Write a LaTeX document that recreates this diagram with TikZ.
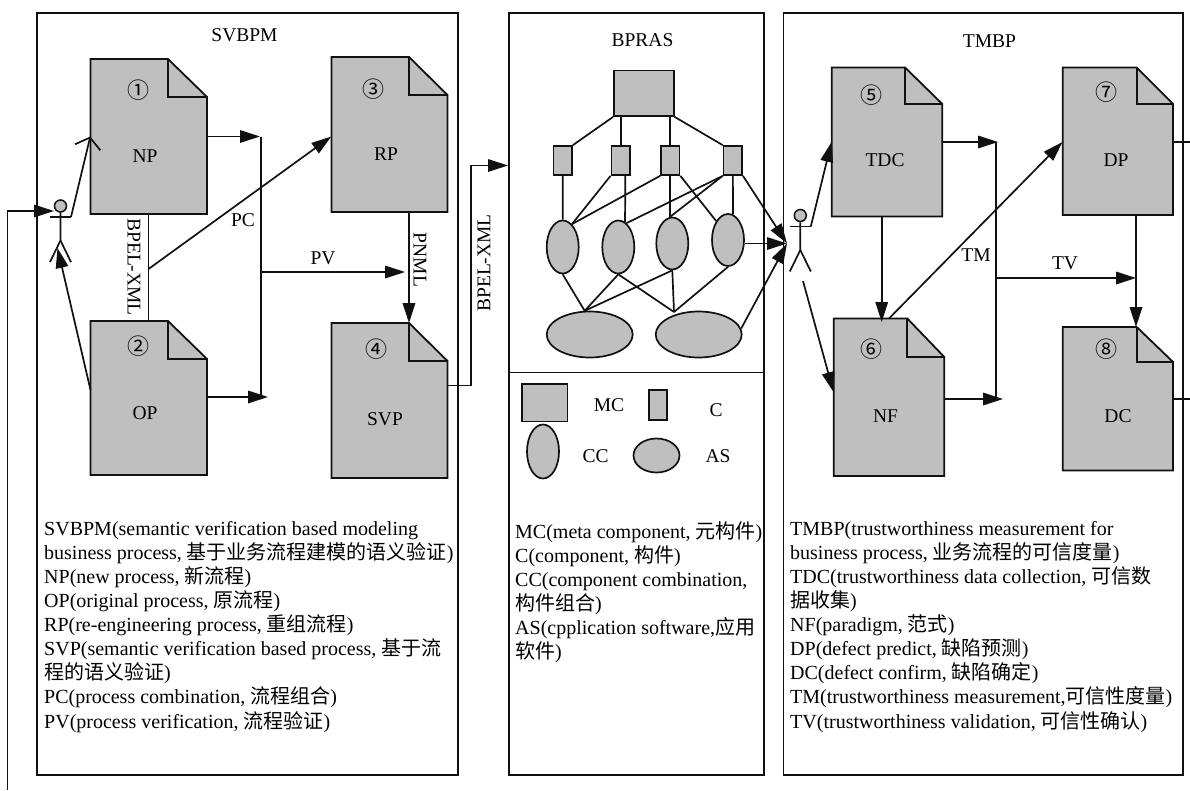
\documentclass[tikz,border=0pt]{standalone}
\usepackage{xcolor}
\usepackage{fontspec}
\setmainfont{Liberation Serif}
\newfontfamily\cjk{Noto Sans CJK SC}
\usepackage{tikz}
\usetikzlibrary{arrows.meta,positioning,calc,shapes.geometric,fit}
\definecolor{figgrey}{HTML}{BFBFBF}
\definecolor{figline}{HTML}{111111}
\newcommand{\zh}[1]{{\cjk\fontsize{20}{24.1}\selectfont #1}}
\tikzset{
  panel/.style={draw=figline, line width=1.6pt, inner sep=0pt},
  sheet/.style={fill=figgrey, draw=figline, line width=1.8pt},
  part/.style={fill=figgrey, draw=figline, line width=1.7pt, inner sep=0pt},
  flow/.style={-{Triangle[length=20pt,width=12.5pt]}, line width=1.7pt, color=figline},
  link/.style={line width=1.7pt, color=figline},
  lbl/.style={text=black, font=\fontsize{19.5}{22}\selectfont, inner sep=0pt},
  num/.style={text=black, font=\cjk\fontsize{22}{24}\selectfont, inner sep=0pt},
  notes/.style={text=black, font=\fontsize{20}{24.1}\selectfont, align=left, anchor=north west, inner sep=0pt},
}
% page shape with a folded corner: name, x0, y0, x1, y1, fold x, fold y
\newcommand{\docsheet}[7]{
  \draw[sheet] (#2,#3) -- (#6,#3) -- (#4,#7) -- (#4,#5) -- (#2,#5) -- cycle;
  \draw[sheet, fill=none] (#6,#3) -- (#6,#7) -- (#4,#7);
  \node[fit={(#2,#3) (#4,#5)}, inner sep=0pt] (#1) {};
}
% stick figure: name, x, y of the head
\newcommand{\stickman}[3]{
  \node[circle, fill=figgrey, draw=figline, line width=1.5pt, minimum size=12pt, inner sep=0pt] (#1) at (#2,#3) {};
  \coordinate (#1hand) at ($(#1)+(10.5,11)$);
  \draw[link] (#1.south) -- ($(#1)+(0,34.5)$) -- ($(#1)+(-10.5,56)$);
  \draw[link] ($(#1)+(0,34.5)$) -- ($(#1)+(10.5,56)$);
  \draw[link] ($(#1)+(-10.5,11)$) -- (#1hand);
}

\begin{document}
\begin{tikzpicture}[x=1pt,y=-1pt]
\useasboundingbox (0,0) rectangle (1190,790);

\node[panel, fit={(37,13) (458,775)}] (SVBPM) {};
\node[panel, fit={(509,13) (763.7,775)}] (BPRAS) {};
\node[panel, fit={(783.3,13) (1182.7,775)}] (TMBP) {};
\draw[panel] (BPRAS.west |- 0,372.5) -- (BPRAS.east |- 0,372.5);

\node[lbl] (svbpmTitle) at (244.5,35) {SVBPM};
\node[lbl] (bprasTitle) at (642.5,40) {BPRAS};
\node[lbl] (tmbpTitle) at (989.5,41) {TMBP};

% left panel
\docsheet{NP}{90.5}{59}{207}{214}{168}{97}
\docsheet{OP}{90.5}{321}{207}{475}{168}{359}
\docsheet{RP}{331.5}{57}{447.5}{212}{409}{95}
\docsheet{SVP}{331.5}{323}{447.5}{478}{409}{361}
\node[num] (num1) at (138.5,90) {①};
\node[num] (num2) at (138.5,346) {②};
\node[num] (num3) at (373,89) {③};
\node[num] (num4) at (376.7,348.7) {④};
\node[lbl] (npLabel) at (145,156) {NP};
\node[lbl] (opLabel) at (145,413) {OP};
\node[lbl] (rpLabel) at (386,154) {RP};
\node[lbl] (svpLabel) at (385,419) {SVP};

\stickman{manA}{60.5}{206}
\coordinate (loopTurn) at (7.5,211);
\coordinate (pcTop) at (260,136.5);
\coordinate (pcBot) at (261,397);
\coordinate (pcBotTip) at (268,397);
\coordinate (pvStart) at (261,272);
\coordinate (pvEnd) at (405,272);
\coordinate (xmlMid) at (148.5,269);
\coordinate (svpFold) at (409,323);
\coordinate (svpTurn) at (471,385.5);
\coordinate (bprasIn) at (508,165.5);
\coordinate (opOut) at (90.5,390);

\draw[flow] (7.5,790) -- (loopTurn) -- (54,211);
\draw[link, -{Straight Barb[length=10pt,width=26pt]}] (manAhand) -- (NP.west |- pcTop);
\draw[flow] (opOut) -- (57.5,248);
\draw[link] (NP.south -| xmlMid) -- (OP.north -| xmlMid);
\draw[flow] (xmlMid) -- (RP.west |- pcTop);
\draw[flow] (NP.east |- pcTop) -- (pcTop);
\draw[flow] (OP.east |- pcBot) -- (pcBotTip);
\draw[link] (261,136.5) -- (pcBot);
\draw[flow] (pvStart) -- (pvEnd);
\draw[flow] (RP.south -| svpFold) -- (svpFold);
\draw[flow] (SVP.east |- svpTurn) -- (svpTurn) -- (svpTurn |- bprasIn) -- (bprasIn);

\node[lbl, rotate=-90] (xmlA) at (134,267) {BPEL-XML};
\node[lbl] (pcLabel) at (243,220) {PC};
\node[lbl] (pvLabel) at (323,258) {PV};
\node[lbl, rotate=-90] (pnml) at (420,260) {PNML};
\node[lbl, rotate=90] (xmlB) at (484,263) {BPEL-XML};

% middle panel
\node[part, minimum width=59.7pt, minimum height=45.5pt] (MC) at (643.85,93.25) {};
\node[part, minimum width=18.5pt, minimum height=29pt] (CA) at (562.75,160.5) {};
\node[part, minimum width=18.5pt, minimum height=29pt] (CB) at (620.65,160.5) {};
\node[part, minimum width=18.5pt, minimum height=29pt] (CC) at (670.25,160.5) {};
\node[part, minimum width=18.5pt, minimum height=29pt] (CD) at (732.85,160.5) {};
\node[part, ellipse, minimum width=32pt, minimum height=53pt] (EA) at (562.7,247) {};
\node[part, ellipse, minimum width=32pt, minimum height=53pt] (EB) at (618.3,247) {};
\node[part, ellipse, minimum width=32pt, minimum height=52pt] (EC) at (672.3,243.5) {};
\node[part, ellipse, minimum width=32pt, minimum height=52pt] (ED) at (728,240) {};
\node[part, ellipse, minimum width=86pt, minimum height=46pt] (AA) at (589.7,334.5) {};
\node[part, ellipse, minimum width=86pt, minimum height=46pt] (AB) at (698.7,334.5) {};
\coordinate (asJoin) at (674,312);
\coordinate (manIn) at (787,243.5);

\draw[link] (MC.south west) -- (CA.north east);
\draw[link] (CB.north |- MC.south) -- (CB.north);
\draw[link] (CC.north |- MC.south) -- (CC.north);
\draw[link] (MC.south east) -- (CD.north west);
\draw[link] (CA.south) -- (EA.north);
\draw[link] (CB.south west) -- (EA.68);
\draw[link] (CB.-73) -- (EB.75);
\draw[link] (CC.south west) -- (EA.68);
\draw[link] (CC.south) -- (CC.south |- EC.north);
\draw[link] (CC.south east) -- (ED.122);
\draw[link] (CD.south west) -- (EB.71);
\draw[link] (CD.south west) -- (EC.95);
\draw[link] (CD.south) -- (ED.79);
\draw[link] (EA.south) -- (AA.102);
\draw[link] (EB.south) -- (AA.102);
\draw[link] (EC.south) -- (AA.102);
\draw[link] (EB.south) -- (asJoin);
\draw[link] (EC.south) -- (asJoin);
\draw[link] (ED.south) -- (asJoin);
\draw[flow] (CD.south east) -- (manIn);
\draw[flow] (ED.east |- manIn) -- (manIn);
\draw[flow] (AB.8) -- (manIn);

% legend
\node[part, minimum width=45.5pt, minimum height=37.5pt] (keyMC) at (544.75,402.75) {};
\node[part, minimum width=18.5pt, minimum height=30pt] (keyC) at (657.9,405) {};
\node[part, ellipse, minimum width=32pt, minimum height=54pt] (keyCC) at (543,451.5) {};
\node[part, ellipse, minimum width=46pt, minimum height=34pt] (keyAS) at (656.5,455.5) {};
\node[lbl] (mcLabel) at (609,405) {MC};
\node[lbl] (cLabel) at (716,410) {C};
\node[lbl] (ccLabel) at (595.5,456) {CC};
\node[lbl] (asLabel) at (718,456) {AS};

% right panel
\docsheet{TDC}{831.7}{67.5}{942.3}{216.5}{905}{104}
\docsheet{NF}{833.7}{318.5}{944.3}{476}{907.3}{357}
\docsheet{DP}{1062.7}{67.5}{1173}{215}{1136.7}{104}
\docsheet{DC}{1062.7}{327}{1173}{470.5}{1136.7}{362}
\node[num] (num5) at (871,95) {⑤};
\node[num] (num6) at (871,349) {⑥};
\node[num] (num7) at (1106,92) {⑦};
\node[num] (num8) at (1106,349) {⑧};
\node[lbl] (tdcLabel) at (885,160) {TDC};
\node[lbl] (nfLabel) at (885.5,416) {NF};
\node[lbl] (dpLabel) at (1116,160) {DP};
\node[lbl] (dcLabel) at (1118,416) {DC};

\stickman{manB}{800.3}{215.5}
\coordinate (tmTop) at (998,142);
\coordinate (tmBot) at (996,399);
\coordinate (tmBotTip) at (1003,399);
\coordinate (tvStart) at (996,278);
\coordinate (tvEnd) at (1136,278);
\coordinate (dcFold) at (1136,327);
\coordinate (nfTop) at (881.7,322);
\coordinate (nfOut) at (889,318.5);
\coordinate (manOut) at (803,281);

\draw[flow] (manBhand) -- (TDC.west |- tmTop);
\draw[flow] (manOut) -- (NF.west |- 0,392);
\draw[flow] (TDC.south -| nfTop) -- (nfTop);
\draw[flow] (TDC.east |- tmTop) -- (tmTop);
\draw[flow] (NF.east |- tmBot) -- (tmBotTip);
\draw[link] (996,142) -- (tmBot);
\draw[flow] (nfOut) -- (DP.west |- tmTop);
\draw[flow] (tvStart) -- (tvEnd);
\draw[flow] (DP.south -| dcFold) -- (dcFold);
\draw[link] (DP.east |- tmTop) -- (1190,142);
\draw[link] (DC.east |- tmBot) -- (1190,399);

\node[lbl] (tmLabel) at (976,255) {TM};
\node[lbl] (tvLabel) at (1065,263) {TV};

% abbreviations
\node[notes] (notesLeft) at (44,521) {SVBPM(semantic verification based modeling\\
business process, \zh{基于业务流程建模的语义验证})\\
NP(new process, \zh{新流程})\\
OP(original process, \zh{原流程})\\
RP(re-engineering process, \zh{重组流程})\\
SVP(semantic verification based process, \zh{基于流}\\
\zh{程的语义验证})\\
PC(process combination, \zh{流程组合})\\
PV(process verification, \zh{流程验证})};

\node[notes] (notesMid) at (515,521) {MC(meta component, \zh{元构件})\\
C(component, \zh{构件})\\
CC(component combination,\\
\zh{构件组合})\\
AS(cpplication software,\zh{应用}\\
\zh{软件})};

\node[notes] (notesRight) at (790,521) {TMBP(trustworthiness measurement for\\
business process, \zh{业务流程的可信度量})\\
TDC(trustworthiness data collection, \zh{可信数}\\
\zh{据收集})\\
NF(paradigm, \zh{范式})\\
DP(defect predict, \zh{缺陷预测})\\
DC(defect confirm, \zh{缺陷确定})\\
TM(trustworthiness measurement,\zh{可信性度量})\\
TV(trustworthiness validation, \zh{可信性确认})};
\end{tikzpicture}
\end{document}
